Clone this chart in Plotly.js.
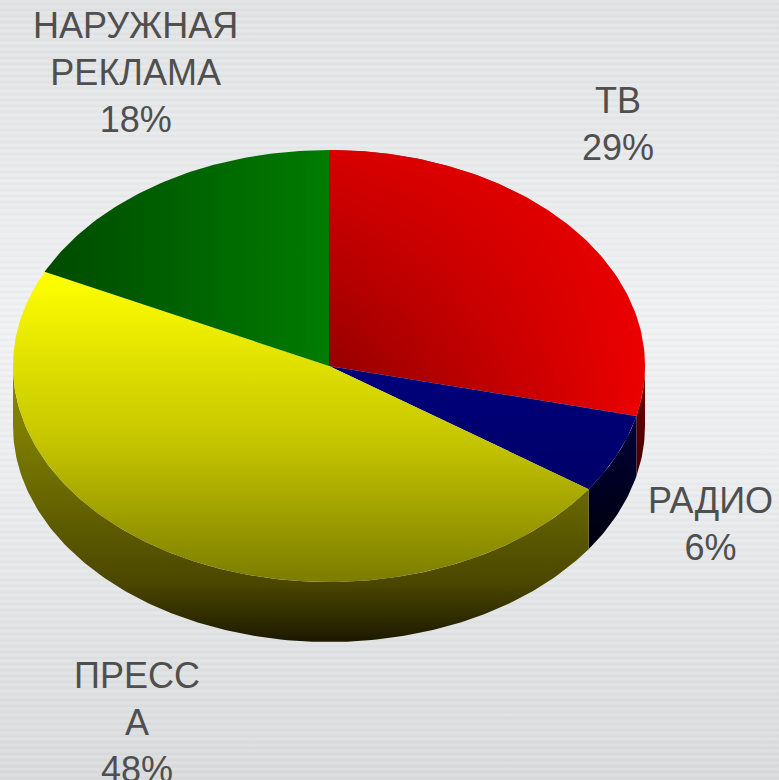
<!DOCTYPE html>
<html>
<head>
<meta charset="utf-8">
<script src="https://cdn.plot.ly/plotly-3.0.1.min.js"></script>
<style>
  html, body { margin: 0; padding: 0; }
  body {
    width: 779px; height: 780px; overflow: hidden;
    background:
      repeating-linear-gradient(180deg, rgba(255,255,255,0.10) 0px, rgba(255,255,255,0) 2px, rgba(0,0,0,0.025) 4px, rgba(255,255,255,0) 6px),
      linear-gradient(180deg, #e2e3e5 0%, #e9eaec 20%, #f1f2f4 42%, #eceef0 60%, #e2e4e6 80%, #dadcde 100%);
  }
  #chart { width: 779px; height: 780px; }
</style>
</head>
<body>
<div id="chart"></div>
<script>
// ---- data ----
const categories = ["ТВ", "РАДИО", "ПРЕССА", "НАРУЖНАЯ РЕКЛАМА"];
const labelLines = ["ТВ", "РАДИО", "ПРЕСС<br>А", "НАРУЖНАЯ<br>РЕКЛАМА"];
const shares = [29, 6, 48, 18];

// ---- geometry / styles (not data) ----
const CX = 329, CY = 366, RX = 316, RY = 216, DEPTH = 60;
const labelPos = [[618, 124], [710, 524], [137, 722], [135, 72]];

const topStyles = [
  {type: "horizontal", start: CX, stop: CX + RX, colorscale: [[0, "#840000"], [1, "#ec0000"]]},
  {type: "vertical", start: 360, stop: 500, colorscale: [[0, "#00007c"], [1, "#000066"]]},
  {type: "vertical", start: 275, stop: 582, colorscale: [[0, "#ffff00"], [0.55, "#c4c400"], [1, "#7c7c00"]]},
  {type: "horizontal", start: 20, stop: CX, colorscale: [[0, "#004600"], [1, "#007c00"]]}
];
const sideStyles = [
  {type: "vertical", start: 360, stop: 490, colorscale: [[0, "#7a0000"], [1, "#3a0000"]]},
  {type: "vertical", start: 410, stop: 550, colorscale: [[0, "#00003c"], [1, "#00000c"]]},
  {type: "vertical", start: 380, stop: 642, colorscale: [[0, "#868600"], [0.24, "#7a7a00"], [0.78, "#4a4600"], [1, "#1c1800"]]},
  {type: "vertical", start: 360, stop: 642, colorscale: [[0, "#004000"], [1, "#001000"]]}
];
const topOverlay = [
  {type: "vertical", start: 150, stop: 430, colorscale: [[0, "rgba(236,0,0,0.8)"], [1, "rgba(236,0,0,0)"]]},
  null, null, null
];

function pt(theta, dy) {
  return [CX + RX * Math.sin(theta), CY - RY * Math.cos(theta) + dy];
}
function arc(a0, a1, dy) {
  const n = Math.max(2, Math.ceil(Math.abs(a1 - a0) / (2 * Math.PI) * 400));
  const out = [];
  for (let i = 0; i <= n; i++) out.push(pt(a0 + (a1 - a0) * i / n, dy));
  return out;
}

const total = shares.reduce((a, b) => a + b, 0);
const bounds = [];
let acc = 0;
shares.forEach(v => { const a0 = acc / total * 2 * Math.PI; acc += v; bounds.push([a0, acc / total * 2 * Math.PI]); });

function polyTrace(pts, grad, fallback) {
  return {
    type: "scatter", mode: "lines",
    x: pts.map(p => p[0]), y: pts.map(p => p[1]),
    fill: "toself", fillcolor: fallback,
    fillgradient: grad,
    line: {width: 0, color: "rgba(0,0,0,0)"},
    hoverinfo: "skip", showlegend: false
  };
}

const traces = [];
// sides (front half only: theta in [pi/2, 3pi/2])
bounds.forEach((b, i) => {
  const s0 = Math.max(b[0], Math.PI / 2), s1 = Math.min(b[1], 3 * Math.PI / 2);
  if (s1 > s0) {
    const pts = arc(s0, s1, 0).concat(arc(s1, s0, DEPTH));
    pts.push(pts[0]);
    traces.push(polyTrace(pts, sideStyles[i], sideStyles[i].colorscale[0][1]));
  }
});
// tops
bounds.forEach((b, i) => {
  const pts = [[CX, CY]].concat(arc(b[0], b[1], 0));
  pts.push([CX, CY]);
  traces.push(polyTrace(pts, topStyles[i], topStyles[i].colorscale[0][1]));
  if (topOverlay[i]) traces.push(polyTrace(pts, topOverlay[i], "rgba(0,0,0,0)"));
});

const annotations = categories.map((c, i) => ({
  x: labelPos[i][0], y: labelPos[i][1], xref: "x", yref: "y",
  text: labelLines[i] + "<br>" + shares[i] + "%",
  showarrow: false, align: "center", xanchor: "center", yanchor: "middle",
  font: {family: "Liberation Sans, Arial, sans-serif", size: 36, color: "#4f4f4f"}
}));

const layout = {
  width: 779, height: 780,
  margin: {l: 0, r: 0, t: 0, b: 0, pad: 0},
  paper_bgcolor: "rgba(0,0,0,0)", plot_bgcolor: "rgba(0,0,0,0)",
  xaxis: {range: [0, 779], visible: false, fixedrange: true},
  yaxis: {range: [780, 0], visible: false, fixedrange: true},
  showlegend: false,
  annotations: annotations
};

Plotly.newPlot("chart", traces, layout, {displayModeBar: false, staticPlot: true});
</script>
</body>
</html>
